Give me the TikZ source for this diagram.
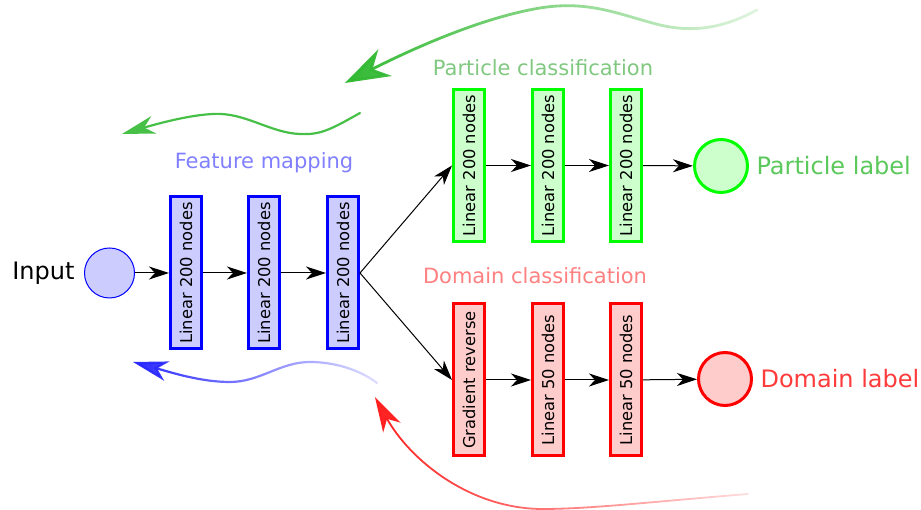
\documentclass[tikz,border=0pt]{standalone}
\usepackage{fontspec}
\setmainfont{DejaVu Sans}
\usetikzlibrary{arrows.meta,positioning,fadings}

\definecolor{featdraw}{RGB}{0,0,255}
\definecolor{featfill}{RGB}{204,204,255}
\definecolor{feattitle}{RGB}{128,128,255}
\definecolor{partdraw}{RGB}{0,255,0}
\definecolor{partfill}{RGB}{204,255,204}
\definecolor{parttitle}{RGB}{128,200,128}
\definecolor{parttext}{RGB}{90,200,90}
\definecolor{partwave}{RGB}{50,185,50}
\definecolor{domdraw}{RGB}{255,0,0}
\definecolor{domfill}{RGB}{255,204,204}
\definecolor{domtitle}{RGB}{255,128,128}
\definecolor{domtext}{RGB}{255,60,60}
\definecolor{featwave}{RGB}{40,40,255}
\definecolor{domwave}{RGB}{255,30,30}

\tikzfading[name=fade right, left color=transparent!0, right color=transparent!85]

\tikzset{
  layer/.style={draw, line width=3pt, minimum width=31pt, minimum height=152pt,
    inner sep=0pt, font=\fontsize{16.3}{19}\selectfont},
  featlayer/.style={layer, draw=featdraw, fill=featfill},
  partlayer/.style={layer, draw=partdraw, fill=partfill},
  domlayer/.style={layer, draw=domdraw, fill=domfill},
  outcirc/.style={circle, line width=3pt, minimum size=53pt, inner sep=0pt},
  bigtext/.style={font=\fontsize{24}{28}\selectfont},
  grouptitle/.style={font=\fontsize{21}{25}\selectfont},
  flow/.style={-{Stealth[length=20pt,width=13pt,inset=6pt]}, line width=1pt},
  wave/.style={line width=2.2pt, line cap=round}
}

\begin{document}
\begin{tikzpicture}[x=1pt,y=1pt]
 \useasboundingbox (0,0) rectangle (921,510);

 % feature mapping
 \node[circle, draw=featdraw, fill=featfill, line width=1pt, minimum size=50pt] (inp) at (109.5,237) {};
 \node[bigtext, left=6pt of inp] (inptxt) {Input};
 \node[featlayer] (f1) at (186,237) {\rotatebox{90}{Linear 200 nodes}};
 \node[featlayer] (f2) at (264,237) {\rotatebox{90}{Linear 200 nodes}};
 \node[featlayer] (f3) at (343,237) {\rotatebox{90}{Linear 200 nodes}};
 \node[grouptitle, text=feattitle] (ftitle) at (264,347) {Feature mapping};

 % particle classification
 \node[partlayer] (p1) at (469,344.5) {\rotatebox{90}{Linear 200 nodes}};
 \node[partlayer] (p2) at (548,344.5) {\rotatebox{90}{Linear 200 nodes}};
 \node[partlayer] (p3) at (626,344.5) {\rotatebox{90}{Linear 200 nodes}};
 \node[outcirc, draw=partdraw, fill=partfill] (pout) at (721,344) {};
 \node[bigtext, text=parttext, right=4pt of pout] (ptxt) {Particle label};
 \node[grouptitle, text=parttitle] (ptitle) at (543,442) {Particle classification};

 % domain classification
 \node[domlayer] (d1) at (469,130) {\rotatebox{90}{Gradient reverse}};
 \node[domlayer] (d2) at (548,130) {\rotatebox{90}{Linear 50 nodes}};
 \node[domlayer] (d3) at (626,130) {\rotatebox{90}{Linear 50 nodes}};
 \node[outcirc, draw=domdraw, fill=domfill] (dout) at (725,131) {};
 \node[bigtext, text=domtext, right=4pt of dout] (dtxt) {Domain label};
 \node[grouptitle, text=domtitle] (dtitle) at (535,234) {Domain classification};

 \draw[flow] (inp) -- (f1);
 \draw[flow] (f1) -- (f2);
 \draw[flow] (f2) -- (f3);
 \draw[flow] (f3.east) -- (p1.west);
 \draw[flow] (f3.east) -- (d1.west);
 \draw[flow] (p1) -- (p2);
 \draw[flow] (p2) -- (p3);
 \draw[flow] (p3) -- (pout);
 \draw[flow] (d1) -- (d2);
 \draw[flow] (d2) -- (d3);
 \draw[flow] (d3) -- (dout);

 % gradients flowing back
 \coordinate (ptopa) at (757,500);
 \coordinate (ptopb) at (345,427);
 \coordinate (pmida) at (360,397);
 \coordinate (pmidb) at (122,376);
 \coordinate (fbota) at (377,127);
 \coordinate (fbotb) at (133,148);
 \coordinate (dbota) at (748,16);
 \coordinate (dbotb) at (375,113);

 \draw[wave, draw=partwave, line width=2.8pt, path fading=fade right,
   -{Stealth[length=45pt,width=30pt,inset=14pt]}]
   (ptopa) .. controls (720,480) and (690,478) .. (660,485)
   .. controls (620,495) and (590,510) .. (540,502)
   .. controls (480,492) and (410,460) .. (ptopb);
 \draw[wave, draw=partwave!90!white, -{Stealth[length=33pt,width=18pt,inset=10pt]}]
   (pmida) .. controls (330,380) and (320,375) .. (300,376)
   .. controls (270,377) and (245,398) .. (213,396)
   .. controls (190,395) and (160,387) .. (pmidb);
 \draw[wave, draw=featwave, path fading=fade right,
   -{Stealth[length=35pt,width=20pt,inset=10pt]}]
   (fbota) .. controls (360,140) and (335,148) .. (310,148)
   .. controls (280,148) and (260,128) .. (230,128)
   .. controls (200,128) and (170,138) .. (fbotb);
 \draw[wave, draw=domwave, line width=1.8pt, path fading=fade right,
   -{Stealth[length=35pt,width=20pt,inset=10pt]}]
   (dbota) .. controls (650,8) and (590,1) .. (543,1)
   .. controls (470,1) and (410,50) .. (dbotb);
\end{tikzpicture}
\end{document}
